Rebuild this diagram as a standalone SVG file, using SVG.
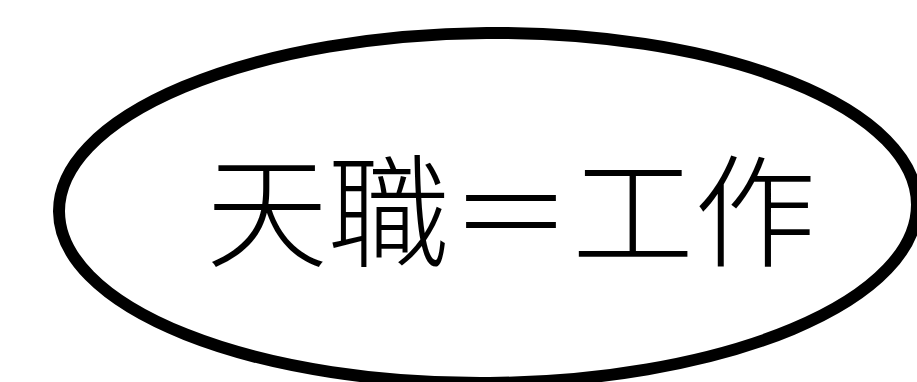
<svg xmlns="http://www.w3.org/2000/svg" width="917" height="382" viewBox="0 0 917 382">
<style>
.shape{fill:#ffffff;stroke:#000000;stroke-width:12}
.label{font-family:"Noto Sans CJK TC","Noto Sans CJK JP",sans-serif;font-size:122px;font-weight:300;fill:#000000}
</style>
<rect x="0" y="0" width="917" height="382" fill="#ffffff"/>
<g id="node-1">
<ellipse class="shape" cx="488" cy="208" rx="429" ry="175" transform="rotate(-0.5 488 208)"/>
<text class="label" x="206" y="257" textLength="610" lengthAdjust="spacing">天職＝工作</text>
</g>
<g id="connectors"></g>
</svg>
